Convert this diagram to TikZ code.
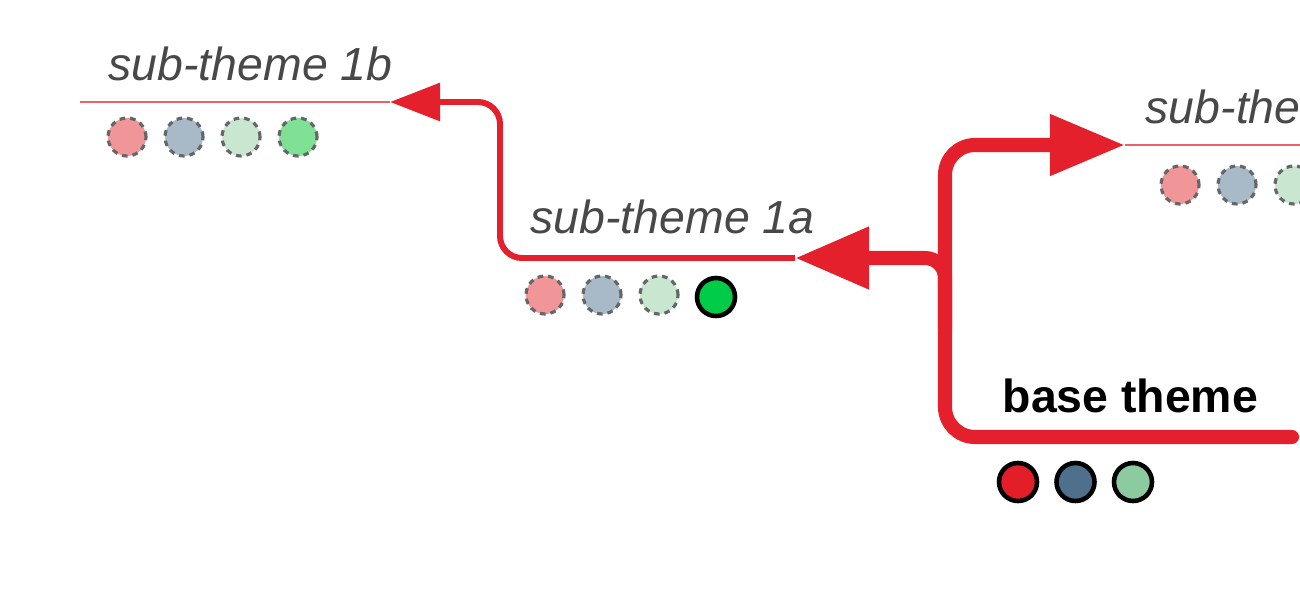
\documentclass[tikz,border=0pt]{standalone}
\usepackage{fontspec}
\setmainfont{Liberation Sans}
\usepackage{xcolor}
\usepackage{tikz}
\usetikzlibrary{arrows.meta}

\definecolor{themered}{RGB}{228,32,44}
\definecolor{lightred}{RGB}{236,96,104}
\definecolor{labelgray}{RGB}{72,72,72}
\definecolor{pinkdot}{RGB}{240,150,152}
\definecolor{greydot}{RGB}{168,186,200}
\definecolor{mintdot}{RGB}{200,230,208}
\definecolor{greendot}{RGB}{128,224,150}
\definecolor{brightgreen}{RGB}{0,204,72}
\definecolor{basered}{RGB}{228,30,40}
\definecolor{baseblue}{RGB}{78,112,140}
\definecolor{basegreen}{RGB}{140,202,160}

\tikzset{
  dot/.style={circle, minimum size=0.38cm, inner sep=0pt},
  ghostdot/.style={dot, draw=gray!80!black, line width=0.9pt, dash pattern=on 1.6pt off 1.4pt},
  realdot/.style={dot, draw=black, line width=1.3pt},
  sublabel/.style={inner sep=0pt, anchor=base west, text=labelgray, font=\fontsize{13.2}{15}\selectfont\itshape},
  baselabel/.style={inner sep=0pt, anchor=base west, font=\fontsize{13.2}{15}\selectfont\bfseries},
}

\begin{document}
\begin{tikzpicture}[x=0.01cm, y=-0.01cm]

\useasboundingbox (0,0) rectangle (1300,600);
\clip (0,0) rectangle (1300,600);

% --- ETICHETTE ---
\node[sublabel] (t1b) at (108,80) {sub-theme 1b};
\node[sublabel] (t1a) at (530,233) {sub-theme 1a};
\node[sublabel] (t2) at (1145,123) {sub-theme};
\node[baselabel] (tbase) at (1002,412) {base theme};

% --- ESTREMI DELLE LINEE ---
\coordinate (u1b-l) at (80,102);
\coordinate (u1b-r) at (390,102);
\coordinate (u1a-r) at (795,258);
\coordinate (u2-l) at (1125,145);
\coordinate (u2-r) at (1320,145);
\coordinate (ubase-r) at (1292,437);

% --- SOTTOLINEE ---
\draw[lightred, line width=0.7pt] (u1b-l) -- (u1b-r);
\draw[lightred, line width=0.7pt] (u2-l) -- (u2-r);

% --- FRECCE (base -> sub) ---
\draw[themered, line width=4pt, line cap=round, rounded corners=0.3cm,
  -{Triangle[length=0.75cm,width=0.58cm]}]
(ubase-r) -| (945,145) -- (u2-l);
\draw[themered, line width=4pt, rounded corners=0.2cm,
  -{Triangle[length=0.74cm,width=0.59cm]}]
(945,330) |- (u1a-r);

% --- FRECCIA (1a -> 1b) ---
\draw[themered, line width=1.7pt, rounded corners=0.22cm,
  -{Triangle[length=0.5cm,width=0.37cm]}]
(u1a-r) -| (500,102) -- (u1b-r);

% --- PALLINI ---
\foreach \c [count=\i] in {pinkdot,greydot,mintdot,greendot}
  \node[ghostdot, fill=\c] (d1b-\i) at ({127+57*(\i-1)},137) {};

\foreach \c [count=\i] in {pinkdot,greydot,mintdot}
  \node[ghostdot, fill=\c] (d1a-\i) at ({545+57*(\i-1)},295) {};
\node[realdot, fill=brightgreen] (d1a-4) at (716,297) {};

\foreach \c [count=\i] in {pinkdot,greydot,mintdot}
  \node[ghostdot, fill=\c] (d2-\i) at ({1180+57*(\i-1)},185) {};

\foreach \c [count=\i] in {basered,baseblue,basegreen}
  \node[realdot, fill=\c] (dbase-\i) at ({1018+57.5*(\i-1)},482) {};

\end{tikzpicture}
\end{document}
